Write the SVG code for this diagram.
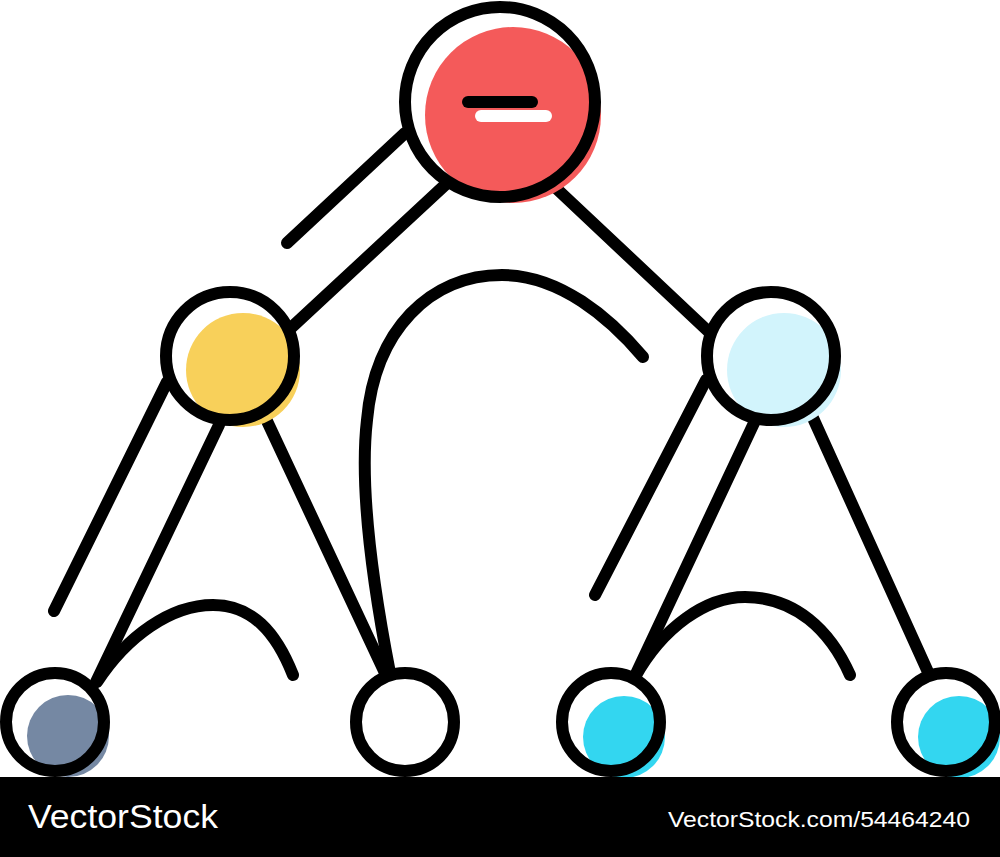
<svg xmlns="http://www.w3.org/2000/svg" width="1000" height="857" viewBox="0 0 1000 857">
  <style>
    .ln { fill: none; stroke: #000; stroke-width: 12; stroke-linecap: round; stroke-linejoin: round; }
    .ring { fill: none; stroke: #000; stroke-width: 12; }
    .lbl { fill: #fff; font-family: "Liberation Sans", Arial, sans-serif; }
  </style>
  <rect width="1000" height="857" fill="#fff"/>
  <g id="connectors">
    <line class="ln" x1="287" y1="243" x2="405" y2="133"/>
    <line class="ln" x1="292" y1="327" x2="445" y2="185"/>
    <line class="ln" x1="558" y1="190" x2="710" y2="333"/>
    <path class="ln" d="M390,673 C370,570 360,480 367,420 C375,330 430,275 502,275 C560,275 610,318 643,357"/>
    <line class="ln" x1="54" y1="611" x2="167" y2="382"/>
    <line class="ln" x1="219" y1="425" x2="96" y2="682"/>
    <line class="ln" x1="267" y1="421" x2="385" y2="673"/>
    <path class="ln" d="M97,682 C127,636 171,605 213,605 C252,605 276,632 293,675"/>
    <line class="ln" x1="595" y1="595" x2="706" y2="380"/>
    <line class="ln" x1="754" y1="423" x2="635" y2="676"/>
    <line class="ln" x1="813" y1="418" x2="928" y2="672"/>
    <path class="ln" d="M635,677 C663,627 706,597 745,597 C795,597 830,630 850,675"/>
  </g>
  <g id="node-root">
    <circle cx="513" cy="115" r="88" fill="#F45A5A"/>
    <circle class="ring" cx="500" cy="102" r="95"/>
    <line x1="468" y1="102" x2="532" y2="102" stroke="#000" stroke-width="12" stroke-linecap="round"/>
    <line x1="481" y1="116" x2="546" y2="116" stroke="#fff" stroke-width="12" stroke-linecap="round"/>
  </g>
  <g id="node-left">
    <circle cx="243" cy="370" r="57" fill="#F8D05A"/>
    <circle class="ring" cx="230" cy="356" r="64"/>
  </g>
  <g id="node-right">
    <circle cx="784" cy="370" r="57" fill="#D2F4FC"/>
    <circle class="ring" cx="771" cy="356" r="64"/>
  </g>
  <g id="leaf-1">
    <circle cx="68" cy="736" r="41" fill="#7588A3"/>
    <circle class="ring" cx="55" cy="722" r="49"/>
  </g>
  <g id="leaf-2">
    <circle class="ring" cx="405" cy="722" r="49" fill="#fff"/>
  </g>
  <g id="leaf-3">
    <circle cx="624" cy="737" r="41" fill="#33D6F0"/>
    <circle class="ring" cx="611" cy="722" r="49"/>
  </g>
  <g id="leaf-4">
    <circle cx="959" cy="737" r="41" fill="#33D6F0"/>
    <circle class="ring" cx="946" cy="722" r="49"/>
  </g>
  <g id="footer">
    <rect x="0" y="777" width="1000" height="80" fill="#000"/>
    <text class="lbl" x="28" y="828" font-size="34" textLength="190" lengthAdjust="spacingAndGlyphs">VectorStock</text>
    <text class="lbl" x="668" y="827" font-size="22" textLength="302" lengthAdjust="spacingAndGlyphs">VectorStock.com/54464240</text>
  </g>
</svg>
